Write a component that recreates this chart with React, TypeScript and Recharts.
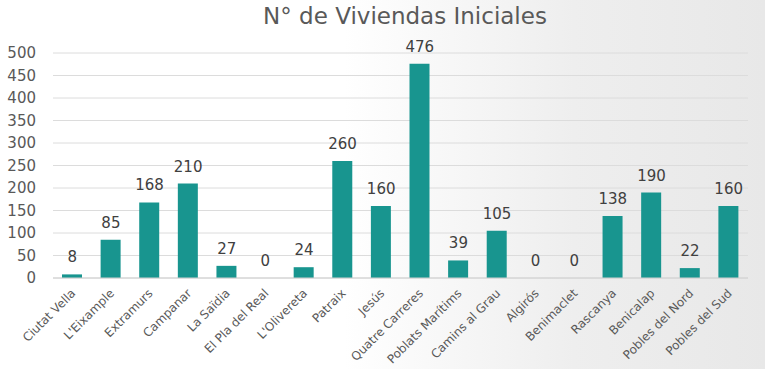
import React from "react";
import { ComposedChart, Bar, Line, XAxis, YAxis, CartesianGrid, LabelList } from "recharts";

const districts = [
  "Ciutat Vella", "L'Eixample", "Extramurs", "Campanar", "La Saïdia", "El Pla del Real",
  "L'Olivereta", "Patraix", "Jesús", "Quatre Carreres", "Poblats Marítims", "Camins al Grau",
  "Algirós", "Benimaclet", "Rascanya", "Benicalap", "Pobles del Nord", "Pobles del Sud",
];
const viviendas = [8, 85, 168, 210, 27, 0, 24, 260, 160, 476, 39, 105, 0, 0, 138, 190, 22, 160];
const yTicks = [0, 50, 100, 150, 200, 250, 300, 350, 400, 450, 500];
const title = "N° de Viviendas Iniciales";

const data = districts.map((name, i) => ({ name, value: viviendas[i] }));

const FONT = "'DejaVu Sans', 'Open Sans', sans-serif";

const XTick = (props: any) => {
  const { x, y, payload } = props;
  return (
    <g transform={`translate(${x + 4},${y + 8})`}>
      <text
        x={0}
        y={0}
        textAnchor="end"
        transform="rotate(-45)"
        fontSize={12}
        fill="#595959"
        fontFamily={FONT}
      >
        {payload.value}
      </text>
    </g>
  );
};

export default function App() {
  return (
    <div
      style={{
        position: "absolute",
        left: 0,
        top: 0,
        width: 765,
        height: 369,
        background: "linear-gradient(to right, #ffffff 0%, #ffffff 45%, #eeeeee 75%, #e8e8e8 100%)",
        fontFamily: FONT,
      }}
    >
      <div
        style={{
          position: "absolute",
          left: 0,
          top: 0,
          width: 810,
          textAlign: "center",
          fontSize: 23,
          lineHeight: "32px",
          color: "#595959",
          fontFamily: FONT,
        }}
      >
        {title}
      </div>
      <ComposedChart
        width={765}
        height={369}
        data={data}
        margin={{ top: 53, right: 17, bottom: 0, left: 0 }}
      >
        <CartesianGrid vertical={false} stroke="#dcdcdc" />
        <XAxis
          dataKey="name"
          interval={0}
          height={91}
          axisLine={{ stroke: "#d0d0d0" }}
          tickLine={false}
          tick={<XTick />}
        />
        <YAxis
          width={53}
          domain={[0, 500]}
          ticks={yTicks}
          interval={0}
          axisLine={false}
          tickLine={false}
          tickMargin={11}
          tick={{ fontSize: 15, fill: "#595959", fontFamily: FONT }}
        />
        <Bar dataKey="value" fill="#18958f" barSize={20} isAnimationActive={false} />
        <Line
          dataKey="value"
          stroke="none"
          dot={false}
          activeDot={false}
          isAnimationActive={false}
        >
          <LabelList
            dataKey="value"
            position="top"
            offset={12}
            style={{ fontSize: 15, fill: "#404040", fontFamily: FONT }}
          />
        </Line>
      </ComposedChart>
    </div>
  );
}
